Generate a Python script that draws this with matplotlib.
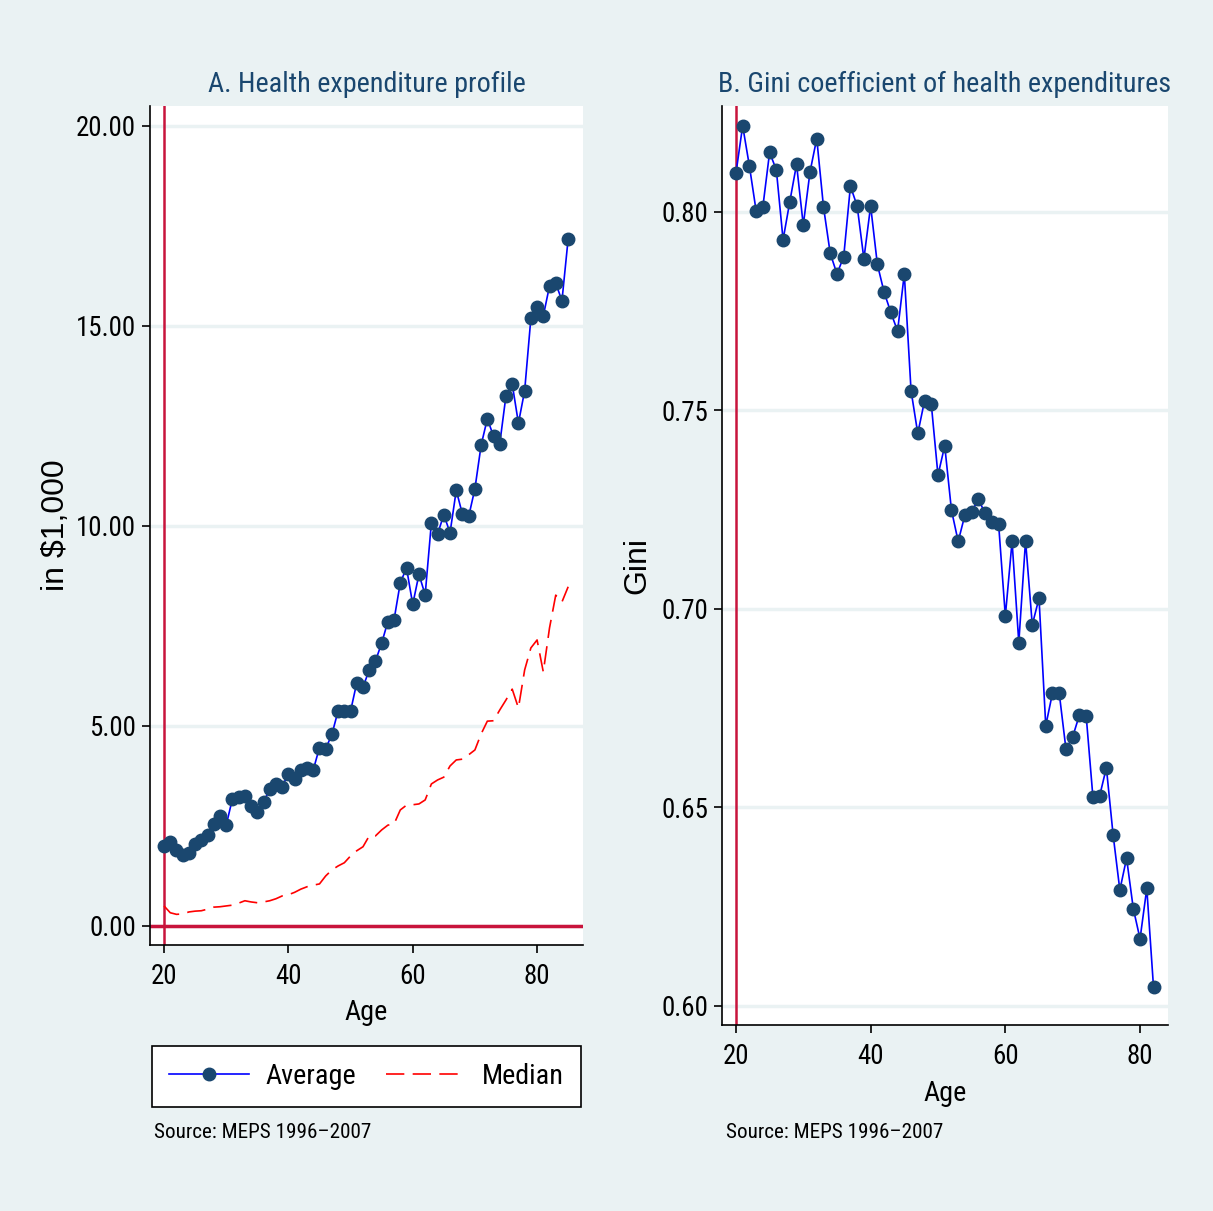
import matplotlib
matplotlib.use("Agg")
import matplotlib.pyplot as plt
from matplotlib import font_manager
from matplotlib.lines import Line2D

# ages and values
ages_a = list(range(20, 86))
average = [2.01, 2.09, 1.90, 1.77, 1.82, 2.06, 2.16, 2.27, 2.56, 2.74,
           2.52, 3.18, 3.22, 3.25, 3.00, 2.84, 3.09, 3.42, 3.54, 3.48,
           3.81, 3.68, 3.89, 3.96, 3.90, 4.46, 4.43, 4.79, 5.38, 5.37,
           5.37, 6.08, 5.97, 6.40, 6.62, 7.07, 7.61, 7.66, 8.58, 8.95,
           8.04, 8.79, 8.28, 10.08, 9.80, 10.28, 9.83, 10.89, 10.29, 10.24,
           10.93, 12.02, 12.68, 12.24, 12.06, 13.26, 13.55, 12.57, 13.38, 15.19,
           15.47, 15.25, 16.00, 16.07, 15.63, 17.18]
median = [0.50, 0.33, 0.29, 0.30, 0.35, 0.37, 0.38, 0.42, 0.47, 0.48,
          0.50, 0.52, 0.57, 0.63, 0.60, 0.58, 0.60, 0.63, 0.68, 0.75,
          0.78, 0.84, 0.92, 0.98, 1.02, 1.05, 1.25, 1.40, 1.50, 1.58,
          1.75, 1.88, 1.98, 2.25, 2.25, 2.40, 2.52, 2.55, 2.90, 3.02,
          3.03, 3.05, 3.15, 3.55, 3.65, 3.72, 4.00, 4.15, 4.17, 4.28,
          4.40, 4.80, 5.12, 5.13, 5.40, 5.65, 5.92, 5.45, 6.40, 6.95,
          7.15, 6.35, 7.45, 8.27, 8.10, 8.48]

ages_b = list(range(20, 83))
gini = [0.8097, 0.8217, 0.8116, 0.8003, 0.8013, 0.8150, 0.8106, 0.7930, 0.8026, 0.8120,
        0.7967, 0.8101, 0.8185, 0.8013, 0.7896, 0.7844, 0.7887, 0.8065, 0.8015, 0.7882,
        0.8015, 0.7868, 0.7798, 0.7747, 0.7700, 0.7844, 0.7550, 0.7442, 0.7524, 0.7517,
        0.7337, 0.7411, 0.7249, 0.7170, 0.7237, 0.7245, 0.7276, 0.7241, 0.7218, 0.7214,
        0.6982, 0.7170, 0.6915, 0.7172, 0.6960, 0.7027, 0.6706, 0.6788, 0.6788, 0.6647,
        0.6678, 0.6733, 0.6731, 0.6527, 0.6529, 0.6600, 0.6431, 0.6292, 0.6372, 0.6245,
        0.6169, 0.6296, 0.6047]

yticks_a = [0, 5, 10, 15, 20]
yticks_b = [0.60, 0.65, 0.70, 0.75, 0.80]
xticks = [20, 40, 60, 80]

BG = '#eaf2f3'
NAVY = '#1a476f'
CRANBERRY = '#c8143c'

# Stata draws most text in a narrow Helvetica; use a narrow face if one exists
fonts = font_manager.fontManager.ttflist
names = {f.name for f in fonts}
narrow = None
k = 0.92
for cand in ['Liberation Sans Narrow', 'Arial Narrow', 'Roboto Condensed',
             'DejaVu Sans Condensed', 'Open Sans Condensed', 'Noto Sans Condensed']:
    if cand in names:
        narrow = cand
        break
stretch = 'normal'
if narrow is None:
    cond = [f.name for f in fonts if f.stretch in ('condensed', 'semi-condensed')]
    if cond:
        narrow = cond[0]
        stretch = 'condensed'
if narrow is None:
    narrow = 'Liberation Sans'
    k = 0.8

plt.rcParams['font.family'] = [narrow, 'DejaVu Sans']
plt.rcParams['font.stretch'] = stretch

fig = plt.figure(figsize=(12.13, 12.11), dpi=100, facecolor=BG)
ax1 = fig.add_axes([0.1237, 0.2197, 0.3570, 0.6928])
ax2 = fig.add_axes([0.5952, 0.1536, 0.3677, 0.7589])


def style_axes(ax, yticks, fmt):
    ax.set_facecolor('white')
    for s in ['top', 'right']:
        ax.spines[s].set_visible(False)
    for s in ['left', 'bottom']:
        ax.spines[s].set_linewidth(1.2)
    ax.set_yticks(yticks)
    ax.set_yticklabels([fmt.format(v) for v in yticks])
    ax.set_xticks(xticks)
    ax.tick_params(axis='both', direction='out', length=6, width=1.2,
                   labelsize=21 * k, pad=4)
    ax.tick_params(axis='x', pad=7)
    for y in yticks:
        ax.axhline(y, color=BG, lw=2.5, zorder=0)


# panel A
ax1.plot(ages_a, average, color='blue', lw=1.2, marker='o', ms=9,
         mfc=NAVY, mec=NAVY, zorder=3)
ax1.plot(ages_a, median, color='red', lw=1.2, dashes=(11, 5), zorder=3)
ax1.axvline(20, color=CRANBERRY, lw=1.8, zorder=2)
ax1.axhline(0, color=CRANBERRY, lw=2.5, zorder=2)
ax1.set_xlim(17.75, 87.4)
ax1.set_ylim(-0.475, 20.5)
style_axes(ax1, yticks_a, '{:.2f}')
ax1.set_title('A. Health expenditure profile', fontsize=22 * k, color=NAVY, pad=10)
ax1.set_xlabel('Age', fontsize=22 * k)
ax1.xaxis.set_label_coords(0.5, -0.065)
ax1.set_ylabel(r'in \$1,000', fontsize=23, family='Liberation Sans',
               fontstretch='normal')
ax1.yaxis.set_label_coords(-0.182, 0.5)

fs_leg = 22 * k
em = fs_leg * 100 / 72
leg = ax1.legend(handles=[
    Line2D([], [], color='blue', lw=1.2, marker='o', ms=9, mfc=NAVY, mec=NAVY),
    Line2D([], [], color='red', lw=1.2, dashes=(11, 5))],
    labels=['Average', 'Median'],
    loc='center', bbox_to_anchor=(0.3021, 0.1111),
    bbox_transform=fig.transFigure, ncol=2, fontsize=fs_leg,
    handlelength=80 / em, handletextpad=16 / em, columnspacing=30 / em,
    borderpad=0.6, fancybox=False, framealpha=1, edgecolor='black')
leg.get_frame().set_linewidth(1.2)

fig.text(0.127, 0.0645, 'Source: MEPS 1996\u20132007', fontsize=16.5 * k, va='center')

# panel B
ax2.plot(ages_b, gini, color='blue', lw=1.2, marker='o', ms=9,
         mfc=NAVY, mec=NAVY, zorder=3)
ax2.axvline(20, color=CRANBERRY, lw=1.8, zorder=2)
ax2.set_xlim(17.93, 84.15)
ax2.set_ylim(0.5952, 0.8267)
style_axes(ax2, yticks_b, '{:.2f}')
ax2.set_title('B. Gini coefficient of health expenditures', fontsize=22 * k,
              color=NAVY, pad=10)
ax2.set_xlabel('Age', fontsize=22 * k)
ax2.xaxis.set_label_coords(0.5, -0.06)
ax2.set_ylabel('Gini', fontsize=23, family='Liberation Sans', fontstretch='normal')
ax2.yaxis.set_label_coords(-0.155, 0.5)

fig.text(0.5985, 0.0645, 'Source: MEPS 1996\u20132007', fontsize=16.5 * k, va='center')

fig.savefig('out.png', dpi=100, facecolor=BG)
